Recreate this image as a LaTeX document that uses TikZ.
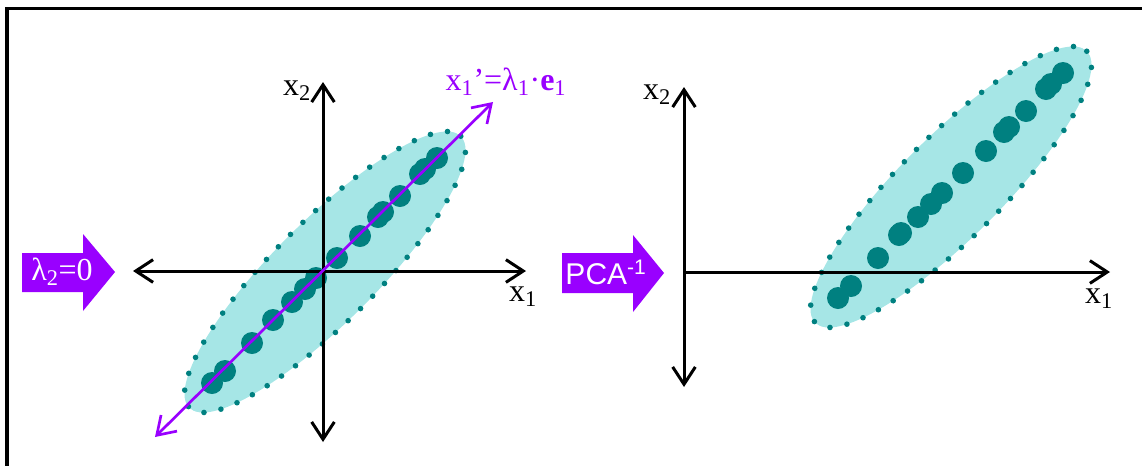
\documentclass[tikz,border=0pt]{standalone}
\usepackage{fontspec}
\setmainfont{Liberation Serif}
\newfontfamily\arialfont{Liberation Sans}
\usetikzlibrary{arrows.meta}
\definecolor{tealdk}{RGB}{0,128,128}
\definecolor{tealfill}{RGB}{166,230,230}
\definecolor{violetA}{RGB}{153,0,255}
\begin{document}
\begin{tikzpicture}[x=0.75pt,y=-0.75pt,
  barb/.tip={Straight Barb[length=13pt,width=17pt,line width=2.25pt]},
  pbarb/.tip={Straight Barb[length=13pt,width=17pt,line width=2pt]},
  axisline/.style={line width=2.25pt,black},
  pcline/.style={line width=2pt,violetA},
  cloud/.style={fill=tealfill},
  cloudborder/.style={draw=tealdk,line width=4.2pt,line cap=round,dash pattern=on 0pt off 13pt},
  datapt/.style={fill=tealdk},
  axlabel/.style={font=\fontsize{24pt}{28pt}\selectfont,inner sep=0pt},
  blockarrow/.style={fill=violetA},
  blocktext/.style={text=white,inner sep=0pt}
]
\useasboundingbox (0,0) rectangle (1142,465);
% frame
\draw[line width=2.5pt] (7,470) -- (7,8.5) -- (1150,8.5);

% ---------- left panel ----------
\coordinate (C1) at (325,272);
\fill[cloud,rotate around={45:(C1)}] (C1) ellipse [x radius=192, y radius=51];
\draw[cloudborder,rotate around={45:(C1)}] (C1) ellipse [x radius=192, y radius=51];
\foreach \p in {(212,383),(225,371),(252,343),(273,320),(292,302),(305,289),(316,278),(337,258),(360,236),(378,217),(383,212),(400,196),(420,174),(425,169),(437,158)}
  \fill[datapt] \p circle[radius=8.25pt];

\coordinate (L1) at (133,271);
\coordinate (R1) at (526,271);
\coordinate (T1) at (323,82);
\coordinate (B1) at (323,442);
\draw[axisline,{barb}-{barb}] (L1) -- (R1);
\draw[axisline,{barb}-{barb}] (B1) -- (T1);
\node[axlabel] (x2a) at (297,91) {x\textsubscript{2}};
\node[axlabel] (x1a) at (523,297) {x\textsubscript{1}};

\coordinate (PA) at (155,437);
\coordinate (PB) at (493,102);
\draw[pcline,{pbarb}-{pbarb}] (PA) -- (PB);
\node[axlabel,text=violetA] (pclabel) at (506,82) {x\textsubscript{1}’=λ\textsubscript{1}·\textbf{e}\textsubscript{1}};

% block arrow lambda
\fill[blockarrow] (22,253) -- (83,253) -- (83,234) -- (115,272) -- (83,311) -- (83,292) -- (22,292) -- cycle;
\node[blocktext,font=\fontsize{24pt}{28pt}\selectfont] (lam) at (62,272) {λ\textsubscript{2}=0};

% ---------- right panel ----------
\begin{scope}[shift={(626,-85)}]
\coordinate (C2) at (325,272);
\fill[cloud,rotate around={45:(C2)}] (C2) ellipse [x radius=192, y radius=51];
\draw[cloudborder,rotate around={45:(C2)}] (C2) ellipse [x radius=192, y radius=51];
\foreach \p in {(212,383),(225,371),(252,343),(273,320),(275,318),(292,302),(305,289),(316,278),(337,258),(360,236),(378,217),(383,212),(400,196),(420,174),(425,169),(437,158)}
  \fill[datapt] \p circle[radius=8.25pt];
\end{scope}

\coordinate (O2) at (684,272);
\coordinate (R2) at (1110,272);
\coordinate (T2) at (684,87);
\coordinate (B2) at (684,387);
\draw[axisline,-{barb}] (O2) -- (R2);
\draw[axisline,{barb}-{barb}] (B2) -- (T2);
\node[axlabel] (x2b) at (657,95) {x\textsubscript{2}};
\node[axlabel] (x1b) at (1099,299) {x\textsubscript{1}};

% block arrow PCA^-1
\fill[blockarrow] (562,253) -- (633,253) -- (633,235) -- (664,273) -- (633,312) -- (633,293) -- (562,293) -- cycle;
\node[blocktext,font=\arialfont\fontsize{22.5pt}{26pt}\selectfont] (pca) at (606,272) {PCA\textsuperscript{-1}};
\end{tikzpicture}
\end{document}
